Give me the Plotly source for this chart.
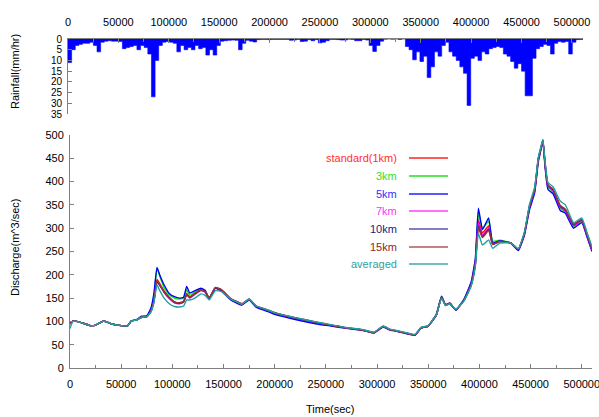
import plotly.graph_objects as go

# ---------------- data ----------------
RAIN_STEP = 3600  # hourly rainfall (sec)
rain_mm_hr = [
    11, 5, 3, 2.5, 2, 2, 1.5, 3, 6, 1.5,
    1, 0.8, 1, 1, 1.2, 4.5, 4, 3.5, 3, 5,
    3, 4, 7, 27, 10, 3, 1.5, 1.2, 1.5, 2,
    6, 3, 5, 4, 5, 3, 4.5, 4, 7.5, 5,
    7.5, 3, 1, 0.8, 0.6, 0.5, 0.6, 5, 2, 0.6,
    1.0, 1.4, 0.3, 0.2, 0.2, 0.3, 0.2, 0.2, 0.2, 0.2,
    0.2, 0.6, 0.5, 0.2, 1.2, 1.0, 0.3, 0.8, 0.3, 1.8,
    1.5, 0.8, 0.2, 0.2, 0.3, 0.5, 0.5, 0.1, 0.2, 0.8,
    0.8, 0.2, 0.5, 3, 5.8, 3, 1, 0.1, 0, 0.1,
    0, 0.2, 0, 3.5, 5, 9.7, 6, 10.5, 8, 18,
    13, 6, 8, 3, 1.5, 6, 8, 10, 13, 16,
    31, 9, 8, 10, 6, 7, 4.5, 4, 3.5, 4,
    7, 8, 10.5, 13.6, 11.5, 15, 26.5, 26.5, 9, 4.5,
    3.5, 2.5, 3, 7, 2, 1.2, 1.5, 1.2, 7, 1.5,
    0.3, 0.2,
]
rain_time = [i * RAIN_STEP for i in range(len(rain_mm_hr))]

time_sec = [
    0, 3000, 10000, 20000, 25000, 33000, 40000, 50000, 56000, 60000,
    65000, 70000, 75000, 79000, 82000, 85000, 88000, 92000, 97000, 102000,
    107000, 111000, 114000, 117000, 122000, 128000, 132000, 136000, 142000, 148000,
    157000, 163000, 168000, 175000, 182000, 190000, 200000, 220000, 240000, 255000,
    270000, 285000, 297000, 306000, 312000, 318000, 330000, 337000, 343000, 350000,
    354000, 358000, 363000, 367000, 371000, 377000, 385000, 392000, 396000, 399000,
    403000, 409000, 413000, 420000, 431000, 438000, 444000, 449000, 454000, 457500,
    459500, 462000, 464000, 467000, 472000, 479000, 484000, 492000, 500000, 505000,
    510000,
]

q_standard = [
    95, 101, 98, 91, 92, 101, 95, 91, 90, 101,
    103, 109, 110, 122, 145, 190, 180, 165, 152, 142,
    140, 143, 160, 152, 160, 168, 164, 150, 172, 167,
    148, 142, 137, 147, 132, 126, 118, 107, 98, 92,
    86, 82, 76, 89, 83, 80, 74, 71, 86, 90,
    101, 114, 152, 135, 139, 125, 146, 180, 225, 318,
    290, 305, 268, 273, 268, 254, 289, 346, 382, 447,
    465, 488, 440, 390, 380, 345, 337, 305, 316, 285,
    253,
]
q_3km = [
    95, 101, 98, 91, 92, 101, 95, 91, 90, 101,
    103, 110, 111, 125, 155, 214, 195, 172, 157, 150,
    148, 150, 168, 156, 163, 170, 166, 150, 172, 166,
    148, 141, 137, 147, 132, 126, 117, 106, 97, 91,
    86, 82, 76, 89, 83, 80, 74, 71, 86, 90,
    102, 115, 153, 135, 139, 125, 147, 182, 230, 332,
    300, 315, 272, 274, 268, 254, 288, 345, 381, 446,
    466, 487, 440, 388, 378, 343, 335, 303, 315, 284,
    252,
]
q_5km = [
    95, 101, 98, 91, 92, 101, 95, 91, 90, 101,
    104, 111, 112, 128, 160, 216, 198, 178, 160, 153,
    150, 152, 175, 161, 166, 171, 167, 148, 171, 165,
    146, 139, 135, 146, 130, 124, 115, 104, 95, 90,
    85, 81, 75, 88, 82, 79, 73, 70, 86, 90,
    102, 116, 154, 136, 139, 124, 148, 185, 235, 343,
    297, 322, 268, 273, 267, 252, 285, 340, 376, 442,
    462, 486, 434, 383, 374, 338, 332, 300, 312, 282,
    250,
]
q_7km = [
    95, 101, 98, 91, 92, 101, 95, 91, 90, 101,
    103, 109, 110, 122, 144, 188, 177, 162, 149, 140,
    138, 141, 157, 150, 158, 167, 163, 150, 172, 167,
    148, 142, 137, 147, 132, 126, 118, 107, 98, 92,
    86, 82, 76, 89, 83, 80, 74, 71, 86, 90,
    101, 114, 152, 135, 139, 125, 146, 180, 224, 312,
    285, 300, 266, 272, 268, 254, 289, 346, 382, 447,
    465, 488, 440, 390, 380, 345, 337, 305, 316, 285,
    253,
]
q_10km = [
    95, 101, 98, 91, 92, 101, 95, 91, 90, 101,
    103, 109, 110, 121, 143, 185, 176, 163, 150, 141,
    139, 142, 158, 151, 159, 167, 163, 150, 172, 167,
    148, 142, 137, 147, 132, 126, 118, 107, 98, 92,
    86, 82, 76, 89, 83, 80, 74, 71, 86, 90,
    101, 114, 152, 135, 139, 125, 146, 179, 222, 305,
    282, 298, 266, 272, 268, 254, 289, 347, 383, 448,
    466, 489, 442, 392, 382, 347, 339, 307, 318, 287,
    255,
]
q_15km = [
    95, 101, 98, 91, 92, 101, 95, 91, 90, 101,
    103, 109, 110, 122, 144, 188, 178, 164, 150, 142,
    140, 142, 158, 152, 160, 168, 164, 150, 173, 168,
    149, 143, 138, 148, 133, 127, 119, 108, 99, 92,
    86, 82, 76, 89, 83, 80, 74, 71, 86, 90,
    101, 114, 151, 134, 138, 125, 145, 178, 220, 300,
    280, 295, 265, 271, 268, 255, 290, 348, 384, 449,
    467, 490, 443, 393, 384, 349, 341, 309, 319, 289,
    257,
]
q_averaged = [
    85, 100, 98, 91, 92, 101, 95, 91, 90, 101,
    103, 109, 110, 120, 140, 178, 165, 150, 138, 132,
    131, 133, 146, 146, 150, 159, 156, 146, 166, 164,
    148, 142, 137, 148, 133, 127, 119, 108, 99, 93,
    87, 83, 77, 90, 84, 81, 75, 72, 87, 91,
    102, 114, 150, 134, 138, 126, 144, 176, 218, 289,
    264, 275, 257, 268, 268, 256, 292, 352, 388, 452,
    470, 490, 446, 398, 389, 358, 350, 312, 322, 292,
    260,
]

series_names = ["standard(1km)", "3km", "5km", "7km", "10km", "15km", "averaged"]
series_values = [q_standard, q_3km, q_5km, q_7km, q_10km, q_15km, q_averaged]
line_colors = ["#ff0000", "#00ee00", "#0000ff", "#ff00ff", "#303090", "#a03030", "#20a0a0"]
legend_line_colors = ["#ff2020", "#20e020", "#2020ff", "#ff40ff", "#8080c0", "#b05858", "#40a8a8"]
text_colors = ["#ff3030", "#30e030", "#3030ff", "#ff30ff", "#202080", "#992222", "#30a0a0"]

W, H = 599, 417
FONT = "Liberation Sans, Arial, sans-serif"

fig = go.Figure()

# rainfall as a stepped filled area (hyetograph)
step_x = rain_time + [rain_time[-1] + RAIN_STEP]
step_y = rain_mm_hr + [rain_mm_hr[-1]]
fig.add_trace(go.Scatter(
    x=step_x, y=step_y, mode="lines", line=dict(color="#0000ff", width=0.6, shape="hv"),
    fill="tozeroy", fillcolor="#0000ff",
    xaxis="x2", yaxis="y2", showlegend=False, hoverinfo="skip",
))

for name, vals, col in zip(series_names, series_values, line_colors):
    fig.add_trace(go.Scatter(
        x=time_sec, y=vals, mode="lines", name=name,
        line=dict(color=col, width=1.4, shape="spline", smoothing=0.4),
        xaxis="x", yaxis="y", showlegend=False,
    ))

axis_common = dict(
    showline=True, linecolor="#808080", linewidth=1,
    ticks="inside", tickcolor="#808080", ticklen=4, tickwidth=1,
    showgrid=False, zeroline=False, automargin=False,
    ticklabeloverflow="allow",
    tickfont=dict(family=FONT, size=11, color="#000000"),
)

fig.update_layout(
    width=W, height=H,
    margin=dict(l=0, r=0, t=0, b=0, autoexpand=False),
    paper_bgcolor="white", plot_bgcolor="white",
    showlegend=False,
    xaxis=dict(
        domain=[70 / W, 592 / W], range=[0, 510000], anchor="y",
        tick0=0, dtick=50000, tickformat="d", ticklabelstandoff=6,
        minor=dict(dtick=25000, ticks="inside", ticklen=3, tickcolor="#808080"),
        **axis_common,
    ),
    yaxis=dict(
        domain=[(H - 368) / H, (H - 135) / H], range=[0, 500], anchor="x",
        tick0=0, dtick=50, ticklabelstandoff=3,
        **axis_common,
    ),
    xaxis2=dict(
        domain=[68 / W, 583 / W], range=[0, 511000], anchor="y2", side="top",
        tick0=0, dtick=50000, tickformat="d", ticklabelstandoff=8,
        minor=dict(dtick=25000, ticks="inside", ticklen=3, tickcolor="#808080"),
        **axis_common,
    ),
    yaxis2=dict(
        domain=[(H - 114) / H, (H - 39) / H], range=[35, 0], anchor="x2",
        tick0=0, dtick=5, ticklabelstandoff=3,
        **{**axis_common, "tickfont": dict(family=FONT, size=10, color="#000000")},
    ),
)

annotations = [
    dict(text="Discharge(m^3/sec)", x=15 / W, y=1 - 248 / H, textangle=-90,
         font=dict(family=FONT, size=11, color="#000000")),
    dict(text="Rainfall(mm/hr)", x=15 / W, y=1 - 72 / H, textangle=-90,
         font=dict(family=FONT, size=11, color="#000000")),
    dict(text="Time(sec)", x=330 / W, y=1 - 409 / H,
         font=dict(family=FONT, size=11, color="#000000")),
]
legend_y = [158, 176, 194, 211, 229, 247, 264]
shapes = []
for name, tcol, lcol, py in zip(series_names, text_colors, legend_line_colors, legend_y):
    annotations.append(dict(
        text=name, x=399 / W, y=1 - py / H, xanchor="right", yanchor="middle",
        font=dict(family=FONT, size=11, color=tcol)))
    shapes.append(dict(
        type="line", xref="paper", yref="paper",
        x0=409 / W, x1=448 / W, y0=1 - py / H, y1=1 - py / H,
        line=dict(color=lcol, width=2 if name == "10km" else 1.3)))

for a in annotations:
    a.setdefault("xref", "paper")
    a.setdefault("yref", "paper")
    a.setdefault("showarrow", False)
    a.setdefault("xanchor", "center")
    a.setdefault("yanchor", "middle")

fig.update_layout(annotations=annotations, shapes=shapes)

# remove the browser's default 8px page margin so the 599x417 figure fills the window
fig.write_html(
    "out.html",
    config={"displayModeBar": False},
    post_script="document.body.style.margin='0';",
)
